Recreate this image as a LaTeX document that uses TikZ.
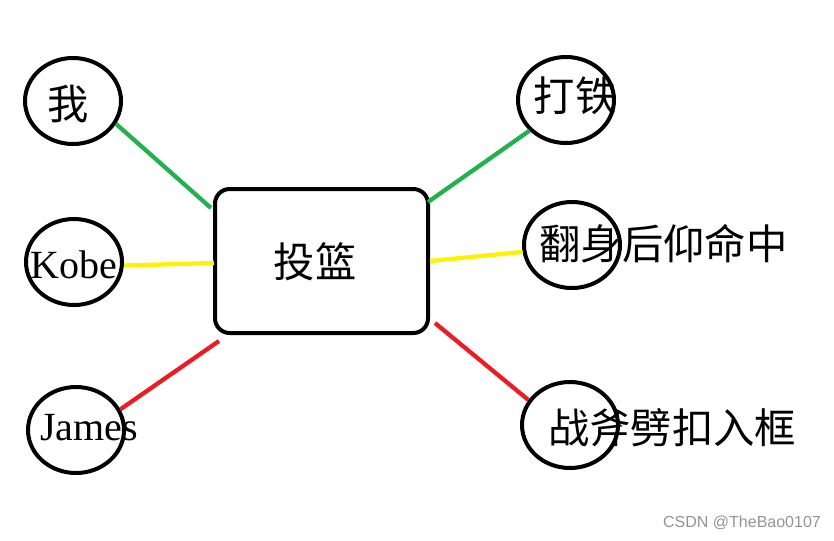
\documentclass[tikz,border=0pt]{standalone}
\usepackage{fontspec}
\usetikzlibrary{shapes.geometric}
\newfontfamily\cjk{Noto Sans CJK SC}
\newfontfamily\latserif{Liberation Serif}
\newfontfamily\wmfont{Liberation Sans}
\definecolor{pgreen}{HTML}{22B14C}
\definecolor{pyellow}{HTML}{FFF200}
\definecolor{pred}{HTML}{ED1C24}
\begin{document}
\begin{tikzpicture}[x=0.75pt,y=-0.75pt,
  bubble/.style={draw=black,line width=3pt,ellipse,minimum width=72pt,minimum height=64.5pt,inner sep=0pt},
  mainbox/.style={draw=black,line width=3pt,rounded corners=11pt,minimum width=159.75pt,minimum height=108pt,inner sep=0pt},
  zh/.style={font=\cjk\fontsize{31}{31}\selectfont,inner sep=0pt},
  en/.style={font=\latserif\fontsize{30}{30}\selectfont,inner sep=0pt},
  link/.style={line width=3.2pt},
  wm/.style={font=\wmfont\fontsize{12}{12}\selectfont,text=black!42,inner sep=0pt}]
\useasboundingbox (0,0) rectangle (834,540);
% nodes
\node[mainbox] (box) at (321.5,261) {};
\node[zh] (boxt) at (315,262) {投篮};
\node[bubble] (me) at (73,101) {};
\node[bubble] (kobe) at (74,262) {};
\node[bubble] (james) at (76,430) {};
\node[bubble] (tie) at (566,100) {};
\node[bubble] (fan) at (572,245) {};
\node[bubble] (zhan) at (570,425) {};
\node[zh] (met) at (68,104) {我};
\node[en,anchor=base west] (kobet) at (30,278) {Kobe};
\node[en,anchor=base west] (jamest) at (40,440) {James};
\node[zh] (tiet) at (575,96) {打铁};
\node[zh] (fant) at (663.5,244) {翻身后仰命中};
\node[zh] (zhant) at (672,428) {战斧劈扣入框};
\node[wm] (mark) at (742,523) {CSDN @TheBao0107};
% box-side ends
\coordinate (b1) at (211,208);
\coordinate (b2) at (214,263);
\coordinate (b3) at (219,341);
\coordinate (b4) at (428,202);
\coordinate (b5) at (430,261);
\coordinate (b6) at (435,323);
% connectors
\draw[link,pgreen] (me.-28) -- (b1);
\draw[link,pyellow] (kobe.-4) -- (b2);
\draw[link,pred] (james.25) -- (b3);
\draw[link,pgreen] (tie.-140) -- (b4);
\draw[link,pyellow] (fan.-172) -- (b5);
\draw[link,pred] (zhan.149) -- (b6);
\end{tikzpicture}
\end{document}
